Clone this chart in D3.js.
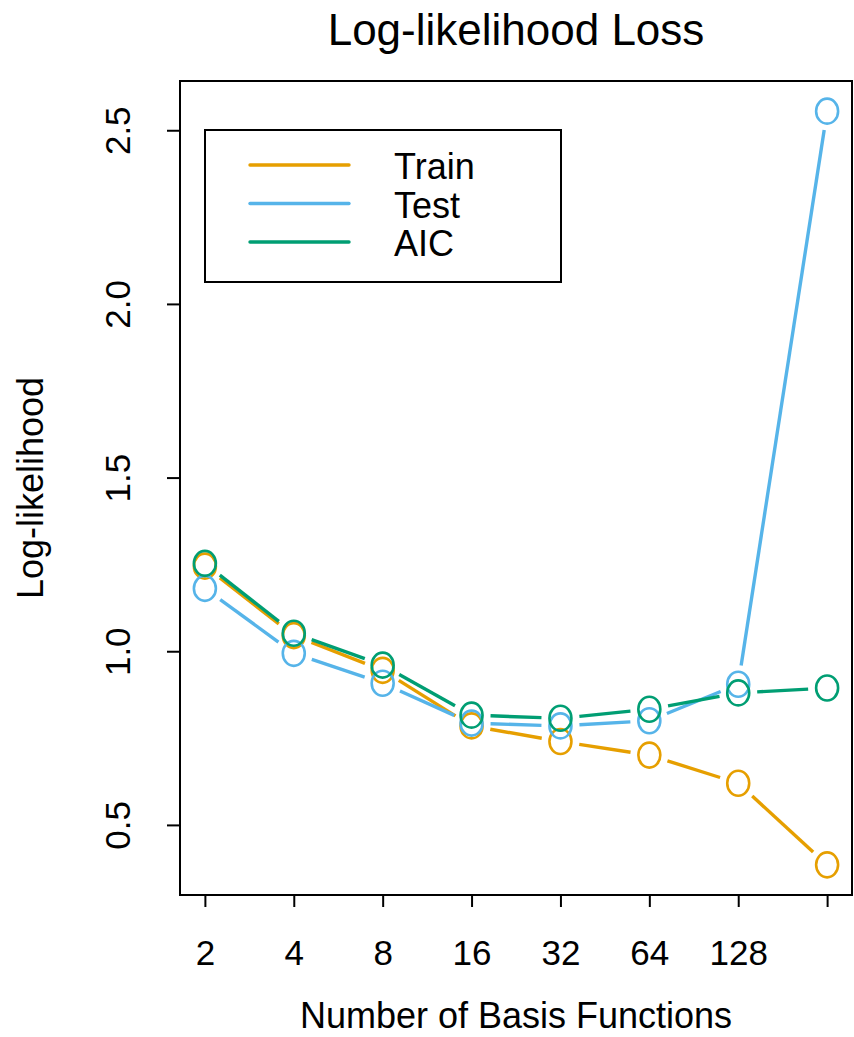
<!DOCTYPE html>
<html>
<head>
<meta charset="utf-8">
<script src="https://cdn.jsdelivr.net/npm/d3@7"></script>
<style>
  html, body { margin: 0; padding: 0; background: #ffffff; }
  svg { display: block; }
  text { font-family: "Liberation Sans", Arial, Helvetica, sans-serif; fill: #000; }
</style>
</head>
<body>
<svg id="chart" width="854" height="1037"></svg>
<script>
// Number of basis functions (log2-spaced)
const basis = [2, 4, 8, 16, 32, 64, 128, 256];
const xTickLabels = ["2", "4", "8", "16", "32", "64", "128", ""];
const yTicks = [0.5, 1.0, 1.5, 2.0, 2.5];

// Log-likelihood loss per model size
const train = [1.245, 1.045, 0.945, 0.785, 0.740, 0.701, 0.620, 0.385];
const test  = [1.181, 0.994, 0.908, 0.793, 0.785, 0.800, 0.905, 2.555];
const aic   = [1.253, 1.052, 0.960, 0.816, 0.807, 0.833, 0.880, 0.894];

const seriesNames = ["Train", "Test", "AIC"];
const seriesColors = ["#E69F00", "#56B4E9", "#009E73"];
const seriesValues = [train, test, aic];

const svg = d3.select("#chart");
const box = { left: 180, right: 852, top: 81, bottom: 895 };

// R-style 4% padding on both axes
const lx = basis.map(Math.log2);
const xPad = 0.04 * (d3.max(lx) - d3.min(lx));
const x = d3.scaleLog().base(2)
  .domain([Math.pow(2, d3.min(lx) - xPad), Math.pow(2, d3.max(lx) + xPad)])
  .range([box.left, box.right]);

const allVals = train.concat(test, aic);
const yMin = d3.min(allVals), yMax = d3.max(allVals);
const yPad = 0.04 * (yMax - yMin);
const y = d3.scaleLinear()
  .domain([yMin - yPad, yMax + yPad])
  .range([box.bottom, box.top]);

// Series: "b" style lines (segments stop short of the points) with open markers
const gap = 19;
seriesValues.forEach((vals, si) => {
  const g = svg.append("g").attr("class", "series");
  const pts = basis.map((b, i) => [x(b), y(vals[i])]);
  for (let i = 0; i < pts.length - 1; i++) {
    const [x0, y0] = pts[i], [x1, y1] = pts[i + 1];
    const len = Math.hypot(x1 - x0, y1 - y0);
    if (len <= 2 * gap) continue;
    const ux = (x1 - x0) / len, uy = (y1 - y0) / len;
    g.append("line")
      .attr("x1", x0 + ux * gap).attr("y1", y0 + uy * gap)
      .attr("x2", x1 - ux * gap).attr("y2", y1 - uy * gap)
      .attr("stroke", seriesColors[si])
      .attr("stroke-width", 3.4);
  }
  g.selectAll("ellipse").data(pts).join("ellipse")
    .attr("cx", d => d[0]).attr("cy", d => d[1])
    .attr("rx", 11).attr("ry", 12.5)
    .attr("fill", "none")
    .attr("stroke", seriesColors[si])
    .attr("stroke-width", 2.6);
});

// Plot frame
svg.append("rect")
  .attr("x", box.left).attr("y", box.top)
  .attr("width", box.right - box.left).attr("height", box.bottom - box.top)
  .attr("fill", "none").attr("stroke", "#000").attr("stroke-width", 2);

// X axis
const xAxis = svg.append("g")
  .attr("transform", `translate(0,${box.bottom})`)
  .call(d3.axisBottom(x).tickValues(basis).tickSize(12)
    .tickFormat((d, i) => xTickLabels[i]));
xAxis.select(".domain").remove();
xAxis.selectAll(".tick line").attr("stroke", "#000").attr("stroke-width", 2);
xAxis.selectAll(".tick text")
  .attr("y", 70).attr("dy", 0)
  .attr("font-size", 35)
  .attr("font-family", "Liberation Sans, Arial, sans-serif")
  .attr("fill", "#000");

// Y axis with labels rotated parallel to the axis
const yAxis = svg.append("g")
  .attr("transform", `translate(${box.left},0)`)
  .call(d3.axisLeft(y).tickValues(yTicks).tickSize(13).tickFormat(d3.format(".1f")));
yAxis.select(".domain").remove();
yAxis.selectAll(".tick line").attr("stroke", "#000").attr("stroke-width", 2);
yAxis.selectAll(".tick text")
  .attr("x", 0).attr("y", 0).attr("dy", 0)
  .attr("text-anchor", "middle")
  .attr("transform", "translate(-50,0) rotate(-90)")
  .attr("font-size", 35)
  .attr("font-family", "Liberation Sans, Arial, sans-serif")
  .attr("fill", "#000");

// Title and axis titles
svg.append("text")
  .attr("x", (box.left + box.right) / 2).attr("y", 45)
  .attr("text-anchor", "middle")
  .attr("font-size", 44)
  .text("Log-likelihood Loss");

svg.append("text")
  .attr("x", (box.left + box.right) / 2).attr("y", 1028)
  .attr("text-anchor", "middle")
  .attr("font-size", 36)
  .text("Number of Basis Functions");

svg.append("text")
  .attr("transform", `translate(43,${(box.top + box.bottom) / 2}) rotate(-90)`)
  .attr("text-anchor", "middle")
  .attr("font-size", 36)
  .text("Log-likelihood");

// Legend
const legend = svg.append("g").attr("class", "legend");
legend.append("rect")
  .attr("x", 205).attr("y", 130).attr("width", 356).attr("height", 152)
  .attr("fill", "#fff").attr("stroke", "#000").attr("stroke-width", 2);
const legendY = d3.scaleLinear().domain([0, 1]).range([165, 203.5]);
seriesNames.forEach((name, i) => {
  legend.append("line")
    .attr("x1", 250).attr("x2", 349)
    .attr("y1", legendY(i)).attr("y2", legendY(i))
    .attr("stroke", seriesColors[i]).attr("stroke-width", 3.4)
    .attr("stroke-linecap", "round");
  legend.append("text")
    .attr("x", 394).attr("y", legendY(i) + 14)
    .attr("font-size", 36)
    .text(name);
});
</script>
</body>
</html>
